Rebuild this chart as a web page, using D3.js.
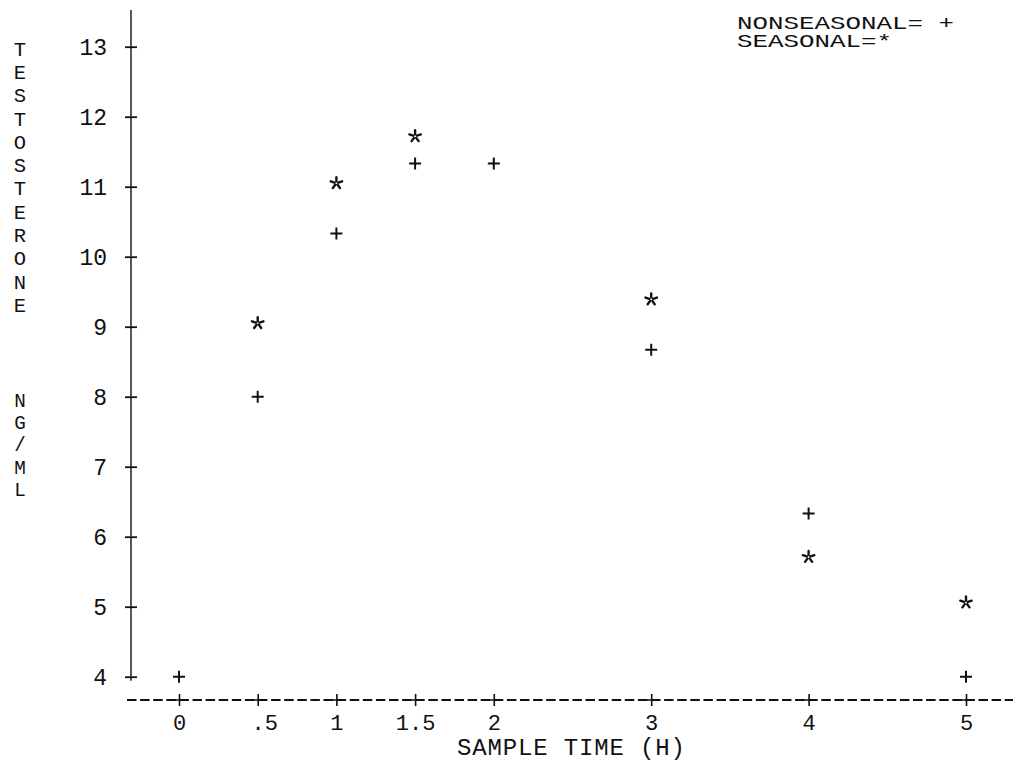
<!DOCTYPE html>
<html>
<head>
<meta charset="utf-8">
<script src="https://cdn.jsdelivr.net/npm/d3@7"></script>
<style>
  html, body { margin: 0; padding: 0; background: #fff; }
  svg { display: block; }
  text { font-family: "Liberation Mono", "DejaVu Sans Mono", monospace; fill: #111; }
</style>
</head>
<body>
<svg id="chart" width="1013" height="763"></svg>
<script>
// ---- data ----
const nonseasonalTimes = [0, 0.5, 1, 1.5, 2, 3, 4, 5];
const nonseasonalValues = [4, 8, 10.33, 11.33, 11.33, 8.67, 6.33, 4];
const seasonalTimes = [0.5, 1, 1.5, 3, 4, 5];
const seasonalValues = [9.05, 11.05, 11.72, 9.39, 5.71, 5.06];
const xTickValues = [0, 0.5, 1, 1.5, 2, 3, 4, 5];
const xTickLabels = ["0", ".5", "1", "1.5", "2", "3", "4", "5"];
const yTickValues = [4, 5, 6, 7, 8, 9, 10, 11, 12, 13];
const yTitle1 = "TESTOSTERONE";
const yTitle2 = "NG/ML";
const xTitle = "SAMPLE TIME (H)";
const legendLines = ["NONSEASONAL= +", "SEASONAL=*"];

// ---- scales ----
const svg = d3.select("#chart");
const x = d3.scaleLinear().domain([0, 5]).range([179, 966]);
const y = d3.scaleLinear().domain([4, 13]).range([676.7, 46.7]);
const axisY = y(3.667);   // dashed x axis position
const axisX = x(-0.305);  // y axis position

const ink = "#111";

// ---- y axis ----
const yAxis = d3.axisLeft(y).tickValues(yTickValues).tickSize(0).tickPadding(24)
  .tickFormat(d3.format("d"));
const gy = svg.append("g").attr("transform", `translate(${axisX},0)`).call(yAxis);
gy.select(".domain").remove();
gy.selectAll(".tick text").attr("font-size", 23).attr("dy", "0.36em").style("fill", ink)
  .attr("font-family", "Liberation Mono");
gy.selectAll(".tick").append("path").attr("d", "M-6,0H6").attr("stroke", ink).attr("stroke-width", 1.8);
gy.append("line").attr("x1", 0).attr("x2", 0).attr("y1", 10).attr("y2", y(4) + 4)
  .attr("stroke", ink).attr("stroke-width", 1.4);

// ---- x axis ----
const labelFor = d => {
  const s = xTickLabels[xTickValues.indexOf(d)];
  return s.startsWith(".") ? "\u00a0" + s : s;
};
const xAxis = d3.axisBottom(x).tickValues(xTickValues).tickSize(0).tickPadding(14)
  .tickFormat(labelFor);
const gx = svg.append("g").attr("transform", `translate(0,${axisY})`).call(xAxis);
gx.select(".domain").remove();
gx.selectAll(".tick text").attr("font-size", 22).style("fill", ink)
  .attr("font-family", "Liberation Mono");
gx.selectAll(".tick").append("path").attr("d", "M0,-6V6M-6,0H6").attr("stroke", ink).attr("stroke-width", 1.6);
gx.insert("line", ":first-child").attr("x1", 127).attr("x2", 1013).attr("y1", 0).attr("y2", 0)
  .attr("stroke", ink).attr("stroke-width", 2).attr("stroke-dasharray", "9.5,3.6");

// ---- axis titles ----
const yt = svg.append("g").attr("text-anchor", "middle");
yt.selectAll("text.t1").data(yTitle1.split("")).join("text")
  .attr("class", "t1").attr("font-size", 20.5).attr("x", 20).attr("y", (d, i) => 48.3 + i * 23.3).attr("dy", "0.36em").text(d => d);
yt.selectAll("text.t2").data(yTitle2.split("")).join("text")
  .attr("class", "t2").attr("font-size", 19.3).attr("x", 20).attr("y", (d, i) => 400 + i * 22.2).attr("dy", "0.36em").text(d => d);

svg.append("text").attr("x", 571).attr("y", 755).attr("text-anchor", "middle")
  .attr("font-size", 24).attr("textLength", 228).text(xTitle);

// ---- legend ----
svg.selectAll("text.legend").data(legendLines).join("text")
  .attr("class", "legend").attr("x", 737).attr("y", (d, i) => 29 + i * 18)
  .attr("font-size", 18).attr("xml:space", "preserve").style("white-space", "pre")
  .attr("textLength", d => d.length * 15.5).attr("lengthAdjust", "spacingAndGlyphs")
  .text(d => d);

// ---- markers ----
const plusPath = "M-6,0H6M0,-6V6";
const starPath = (() => {
  let p = "";
  for (let k = 0; k < 5; k++) {
    const a = -Math.PI / 2 + k * 2 * Math.PI / 5;
    p += `M${(2 * Math.cos(a)).toFixed(2)},${(2 * Math.sin(a)).toFixed(2)}L${(6 * Math.cos(a)).toFixed(2)},${(6 * Math.sin(a)).toFixed(2)}`;
  }
  return p;
})();

svg.append("g").selectAll("path").data(nonseasonalTimes.map((t, i) => [t, nonseasonalValues[i]]))
  .join("path").attr("transform", d => `translate(${x(d[0])},${y(d[1])})`)
  .attr("d", plusPath).attr("stroke", ink).attr("stroke-width", 2).attr("fill", "none");

svg.append("g").selectAll("path").data(seasonalTimes.map((t, i) => [t, seasonalValues[i]]))
  .join("path").attr("transform", d => `translate(${x(d[0])},${y(d[1])})`)
  .attr("d", starPath).attr("stroke", ink).attr("stroke-width", 2.4).attr("stroke-linecap", "round").attr("fill", "none");
</script>
</body>
</html>
